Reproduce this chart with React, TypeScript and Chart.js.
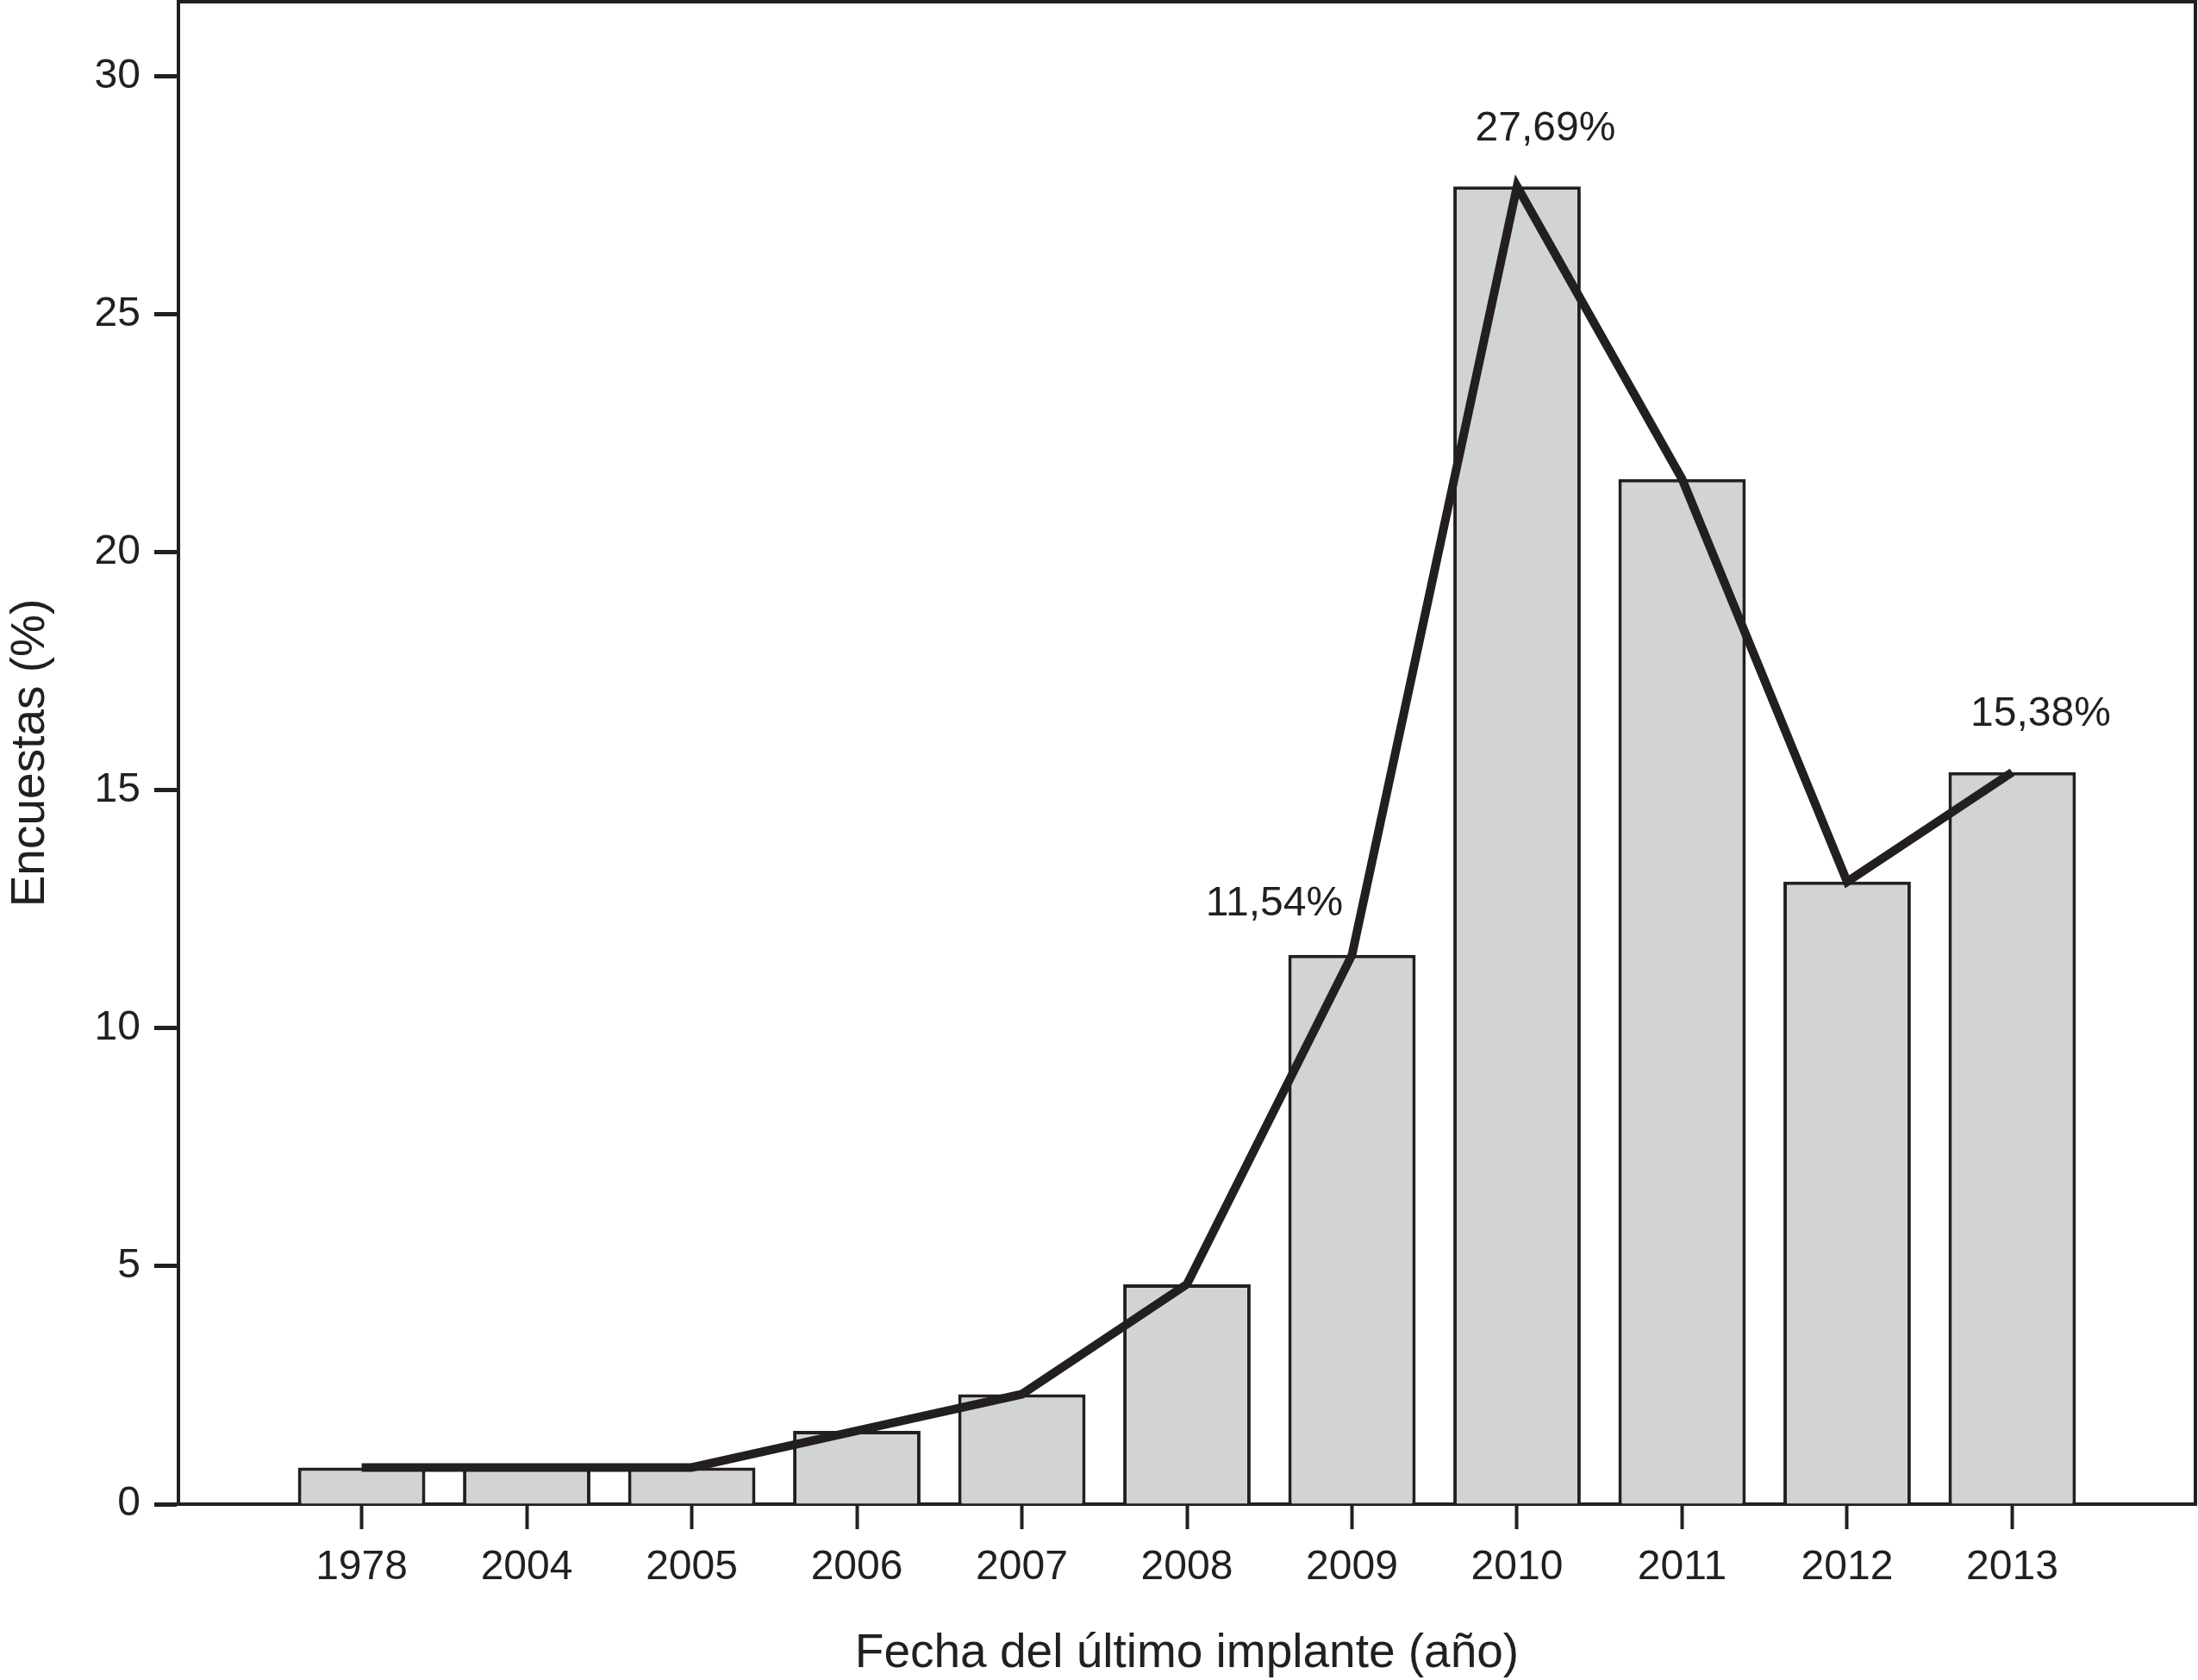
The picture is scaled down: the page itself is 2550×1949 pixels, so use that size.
import React, { useEffect, useRef } from 'react';
import { Chart, registerables } from 'chart.js';

Chart.register(...registerables);

// ---- Data ----
const years = ['1978', '2004', '2005', '2006', '2007', '2008', '2009', '2010', '2011', '2012', '2013'];
const surveyPercent = [0.77, 0.77, 0.77, 1.54, 2.31, 4.62, 11.54, 27.69, 21.54, 13.08, 15.38];
const yTickValues = [0, 5, 10, 15, 20, 25, 30];
const annotatedYears = ['2009', '2010', '2013'];
const annotationLabels = ['11,54%', '27,69%', '15,38%'];

const xTitle = 'Fecha del último implante (año)';
const yTitle = 'Encuestas (%)';

// ---- Style ----
const INK = '#231f20';
const BAR_FILL = '#d1d3d4';
const FONT = "'Liberation Sans', Arial, Helvetica, sans-serif";
const W = 2550;
const H = 1949;

const labelOffsets: Record<string, [number, number]> = {
  '2009': [-90, -46],
  '2010': [33, -53],
  '2013': [33, -54],
};

const framePlugin = {
  id: 'frame',
  afterDraw(chart: any) {
    const { ctx, chartArea } = chart;
    const { left, top, right, bottom } = chartArea;
    ctx.save();
    ctx.strokeStyle = INK;
    ctx.lineWidth = 4;
    ctx.lineCap = 'square';
    ctx.beginPath();
    ctx.moveTo(left, top);
    ctx.lineTo(right, top);
    ctx.lineTo(right, bottom);
    ctx.stroke();
    ctx.restore();
  },
};

const annotationPlugin = {
  id: 'valueLabels',
  afterDatasetsDraw(chart: any) {
    const { ctx } = chart;
    const xs = chart.scales.x;
    const ys = chart.scales.y;
    ctx.save();
    ctx.font = `48px ${FONT}`;
    ctx.fillStyle = INK;
    ctx.textAlign = 'center';
    ctx.textBaseline = 'alphabetic';
    annotatedYears.forEach((yr, k) => {
      const i = years.indexOf(yr);
      const px = xs.getPixelForValue(i);
      const py = ys.getPixelForValue(surveyPercent[i]);
      const off = labelOffsets[yr] || [0, -50];
      ctx.fillText(annotationLabels[k], px + off[0], py + off[1]);
    });
    ctx.restore();
  },
};

export default function App() {
  const canvasRef = useRef<HTMLCanvasElement | null>(null);

  useEffect(() => {
    const canvas = canvasRef.current;
    if (!canvas) return;
    const points = years.map((_, i) => ({ x: i, y: surveyPercent[i] }));

    const chart = new Chart(canvas, {
      type: 'bar',
      data: {
        datasets: [
          {
            type: 'line',
            data: points,
            borderColor: INK,
            borderWidth: 10,
            pointRadius: 0,
            tension: 0,
            borderJoinStyle: 'miter',
            borderCapStyle: 'butt',
            fill: false,
            order: 0,
          } as any,
          {
            type: 'bar',
            data: points,
            backgroundColor: BAR_FILL,
            borderColor: INK,
            borderWidth: 4,
            borderSkipped: 'bottom',
            barPercentage: 0.772,
            categoryPercentage: 1,
            order: 1,
          } as any,
        ],
      },
      options: {
        responsive: false,
        devicePixelRatio: 1,
        animation: false,
        layout: { padding: { top: 2, right: 3, left: 0, bottom: 0 } },
        plugins: {
          legend: { display: false },
          tooltip: { enabled: false },
        },
        scales: {
          x: {
            type: 'linear',
            min: -1.11,
            max: 11.11,
            offset: false,
            afterBuildTicks: (s: any) => {
              s.ticks = years.map((_, i) => ({ value: i }));
            },
            afterFit: (s: any) => {
              s.height = 204;
              s.paddingLeft = 0;
              s.paddingRight = 0;
            },
            ticks: {
              callback: (v: any) => years[v] ?? '',
              font: { family: FONT, size: 48 },
              color: INK,
              padding: 16,
              maxRotation: 0,
              autoSkip: false,
            },
            grid: {
              drawOnChartArea: false,
              drawTicks: true,
              tickLength: 29,
              tickWidth: 4,
              tickColor: INK,
              offset: false,
            },
            border: { display: true, color: INK, width: 4 },
            title: {
              display: true,
              text: xTitle,
              font: { family: FONT, size: 55, lineHeight: 1 },
              color: INK,
              padding: { top: 0, bottom: 3 },
            },
          } as any,
          y: {
            type: 'linear',
            min: 0,
            max: 31.57,
            afterBuildTicks: (s: any) => {
              s.ticks = yTickValues.map((v) => ({ value: v }));
            },
            afterFit: (s: any) => {
              s.width = 207;
              s.paddingTop = 0;
              s.paddingBottom = 0;
            },
            ticks: {
              font: { family: FONT, size: 48 },
              color: INK,
              padding: 16,
            },
            grid: {
              drawOnChartArea: false,
              drawTicks: true,
              tickLength: 28,
              tickWidth: 5,
              tickColor: INK,
            },
            border: { display: true, color: INK, width: 4 },
            title: {
              display: true,
              text: yTitle,
              font: { family: FONT, size: 55, lineHeight: 1.2 },
              color: INK,
              padding: { top: 3, bottom: 0 },
            },
          } as any,
        },
      },
      plugins: [framePlugin, annotationPlugin],
    });

    return () => chart.destroy();
  }, []);

  return (
    <div style={{ position: 'fixed', left: 0, top: 0, width: W, height: H, background: '#ffffff' }}>
      <canvas ref={canvasRef} width={W} height={H} style={{ display: 'block', width: W, height: H }} />
    </div>
  );
}
